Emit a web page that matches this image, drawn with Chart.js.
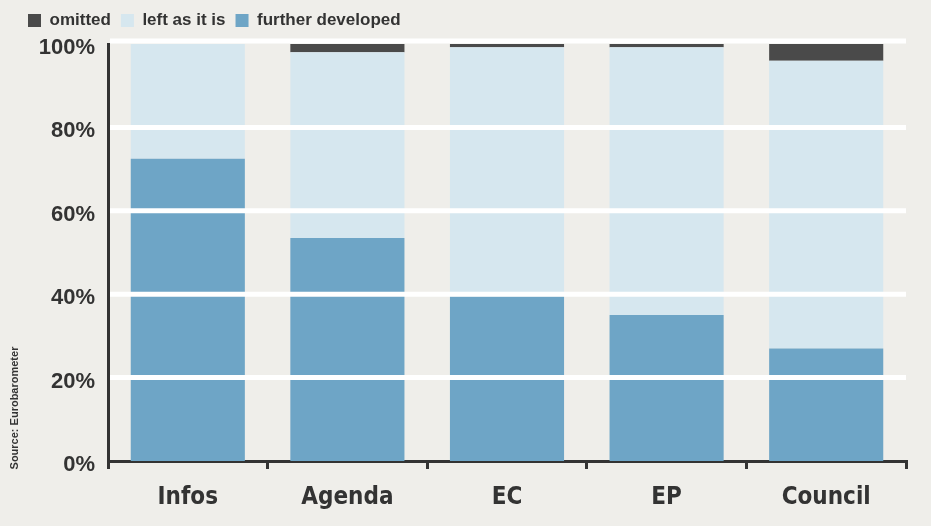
<!DOCTYPE html>
<html>
<head>
<meta charset="utf-8">
<script src="https://cdn.jsdelivr.net/npm/chart.js@4/dist/chart.umd.min.js"></script>
<style>
  html, body { margin: 0; padding: 0; background: #efeeea; }
  #wrap { width: 931px; height: 526px; position: relative; }
</style>
</head>
<body>
<div id="wrap"><canvas id="c" width="931" height="526"></canvas></div>
<script>
const categories = ['Infos', 'Agenda', 'EC', 'EP', 'Council'];
const furtherDeveloped = [72.5, 53.5, 39.5, 35.0, 27.0];
const omitted = [0, 2.0, 0.8, 0.8, 4.0];
const leftAsItIs = [27.5, 44.5, 59.7, 64.2, 69.0];
const yTicks = [0, 20, 40, 60, 80, 100];
const sourceText = 'Source: Eurobarometer';

const INK = '#333333';

const bgPlugin = {
  id: 'bg',
  beforeDraw(chart) {
    const ctx = chart.ctx;
    ctx.save();
    ctx.fillStyle = '#efeeea';
    ctx.fillRect(0, 0, chart.width, chart.height);
    ctx.restore();
  }
};

const whiteGrid = {
  id: 'whiteGrid',
  afterDatasetsDraw(chart) {
    const ctx = chart.ctx, y = chart.scales.y, a = chart.chartArea;
    ctx.save();
    ctx.strokeStyle = '#ffffff';
    ctx.lineWidth = 5;
    yTicks.forEach(v => {
      if (v === 0) return;
      let py = y.getPixelForValue(v);
      if (v === 100) py -= 3;
      ctx.beginPath();
      ctx.moveTo(a.left + 2, py);
      ctx.lineTo(a.right, py);
      ctx.stroke();
    });
    ctx.restore();
  },
  afterDraw(chart) {
    const ctx = chart.ctx;
    ctx.save();
    ctx.translate(15, 408);
    ctx.rotate(-Math.PI / 2);
    ctx.fillStyle = INK;
    ctx.font = 'bold 11px "Liberation Sans", Arial, sans-serif';
    ctx.textAlign = 'center';
    ctx.textBaseline = 'middle';
    ctx.fillText(sourceText, 0, 0);
    ctx.restore();
  }
};

const legendFit = {
  id: 'legendFit',
  beforeInit(chart) {
    const orig = chart.legend.fit;
    chart.legend.fit = function () {
      orig.bind(chart.legend)();
      this.height = 42;
    };
  }
};

new Chart(document.getElementById('c'), {
  type: 'bar',
  data: {
    labels: categories,
    datasets: [
      { label: 'further developed', data: furtherDeveloped, backgroundColor: '#6ea5c6', borderWidth: 0 },
      { label: 'left as it is', data: leftAsItIs, backgroundColor: '#d6e7ef', borderWidth: 0 },
      { label: 'omitted', data: omitted, backgroundColor: '#4a4a4a', borderWidth: 0 }
    ]
  },
  options: {
    responsive: false,
    animation: false,
    layout: { padding: { left: 18, right: 25, top: 2, bottom: 0 } },
    datasets: { bar: { categoryPercentage: 1.0, barPercentage: 0.715 } },
    plugins: {
      legend: {
        position: 'top',
        align: 'start',
        reverse: true,
        labels: {
          boxWidth: 13, boxHeight: 13, padding: 10,
          color: INK,
          font: { family: '"Liberation Sans", Arial, sans-serif', weight: 'bold', size: 17 }
        }
      },
      tooltip: { enabled: false }
    },
    scales: {
      x: {
        stacked: true,
        offset: true,
        grid: { display: true, drawOnChartArea: false, drawTicks: true, tickLength: 8, lineWidth: 3, color: INK, offset: true },
        border: { display: true, color: INK, width: 3 },
        ticks: {
          color: INK, padding: 14,
          font: { family: '"DejaVu Sans Condensed", "Liberation Sans Narrow", sans-serif', weight: 'bold', size: 24 }
        },
        afterFit(s) { s.height = 65; }
      },
      y: {
        stacked: true,
        min: 0, max: 100,
        afterBuildTicks(s) { s.ticks = yTicks.map(v => ({ value: v })); },
        grid: { display: false },
        border: { display: true, color: INK, width: 3 },
        ticks: {
          color: INK, padding: 5, labelOffset: 4,
          font: { family: '"Liberation Sans", Arial, sans-serif', weight: 'bold', size: 22 },
          callback: v => v + '%'
        },
        afterFit(s) { s.width = 90; }
      }
    }
  },
  plugins: [bgPlugin, whiteGrid, legendFit]
});
</script>
</body>
</html>
